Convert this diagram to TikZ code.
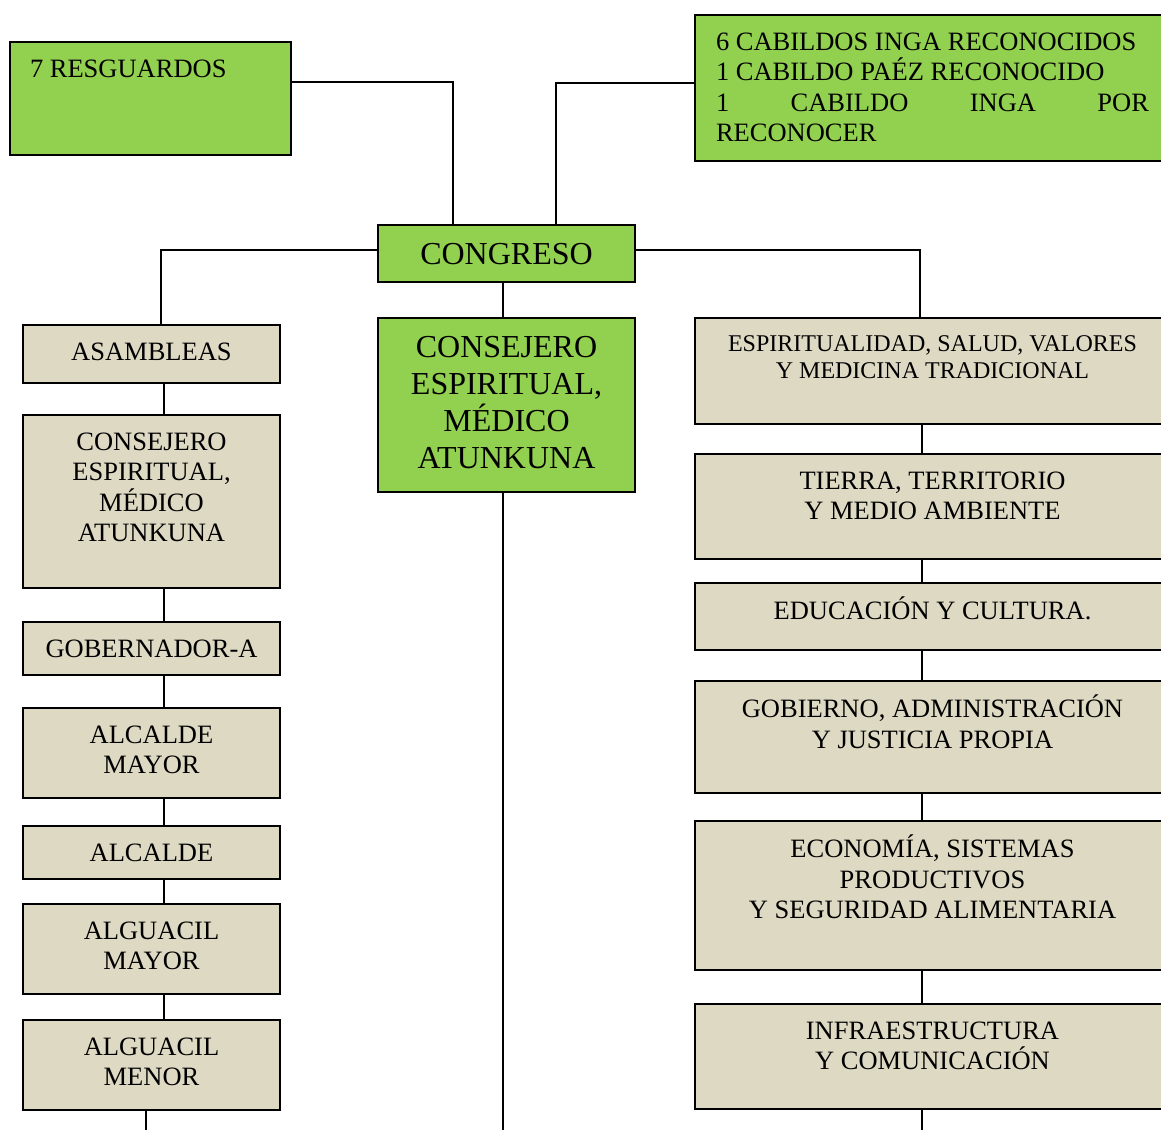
\documentclass[tikz,border=0pt]{standalone}
\usepackage{fontspec}
\setmainfont{Liberation Serif}
\definecolor{leafgreen}{HTML}{92D050}
\definecolor{tanfill}{HTML}{DDD9C3}
\newcommand{\cellc}[3]{\parbox[c][#2][t]{#1}{\centering\lineskiplimit=-10pt\vspace*{14pt}\strut#3\par}}

\begin{document}
\begin{tikzpicture}[x=1pt,y=-1pt,
  boxplain/.style={draw=black,line width=1.8pt,inner sep=0pt,outer sep=0pt,anchor=north west},
  greenbox/.style={boxplain,fill=leafgreen},
  tanbox/.style={boxplain,fill=tanfill},
  txtbase/.style={font=\fontsize{26.5}{30.5}\selectfont},
  txtbig/.style={font=\fontsize{32}{36.8}\selectfont},
  txtsmall/.style={font=\fontsize{24}{27.6}\selectfont},
  link/.style={line width=1.8pt}]
\useasboundingbox (0,0) rectangle (1161,1130);
% top row
\node[greenbox,txtbase] (a) at (10,42) {\parbox[c][113pt][t]{281pt}{\vspace*{14pt}\hspace*{20pt}\strut 7 RESGUARDOS}};
\node[greenbox,txtbase] (b) at (695,15) {\parbox[c][146pt][t]{475pt}{\lineskiplimit=-10pt\vspace*{14pt}\leftskip=21pt\rightskip=21pt\strut 6 CABILDOS INGA RECONOCIDOS\\ 1 CABILDO PAÉZ RECONOCIDO\\ 1 CABILDO INGA POR\linebreak RECONOCER\par}};
% centre
\node[greenbox,txtbig] (c) at (378,225) {\cellc{257pt}{57pt}{CONGRESO}};
\node[greenbox,txtbig] (d) at (378,318) {\cellc{257pt}{174pt}{CONSEJERO\\ ESPIRITUAL,\\ MÉDICO\\ ATUNKUNA}};
% left column
\node[tanbox,txtbase] (l1) at (23,325) {\cellc{257pt}{58pt}{ASAMBLEAS}};
\node[tanbox,txtbase] (l2) at (23,415) {\cellc{257pt}{173pt}{CONSEJERO\\ ESPIRITUAL,\\ MÉDICO\\ ATUNKUNA}};
\node[tanbox,txtbase] (l3) at (23,622) {\cellc{257pt}{53pt}{GOBERNADOR-A}};
\node[tanbox,txtbase] (l4) at (23,708) {\cellc{257pt}{90pt}{ALCALDE\\ MAYOR}};
\node[tanbox,txtbase] (l5) at (23,826) {\cellc{257pt}{53pt}{ALCALDE}};
\node[tanbox,txtbase] (l6) at (23,904) {\cellc{257pt}{90pt}{ALGUACIL\\ MAYOR}};
\node[tanbox,txtbase] (l7) at (23,1020) {\cellc{257pt}{90pt}{ALGUACIL\\ MENOR}};
% right column
\node[tanbox,txtsmall] (r1) at (695,318) {\cellc{475pt}{106pt}{ESPIRITUALIDAD, SALUD, VALORES\\ Y MEDICINA TRADICIONAL}};
\node[tanbox,txtbase] (r2) at (695,454) {\cellc{475pt}{105pt}{TIERRA, TERRITORIO\\ Y MEDIO AMBIENTE}};
\node[tanbox,txtbase] (r3) at (695,583) {\cellc{475pt}{67pt}{EDUCACIÓN Y CULTURA.}};
\node[tanbox,txtbase] (r4) at (695,681) {\cellc{475pt}{112pt}{GOBIERNO, ADMINISTRACIÓN\\ Y JUSTICIA PROPIA}};
\node[tanbox,txtbase] (r5) at (695,821) {\cellc{475pt}{149pt}{ECONOMÍA, SISTEMAS\\ PRODUCTIVOS\\ Y SEGURIDAD ALIMENTARIA}};
\node[tanbox,txtbase] (r6) at (695,1004) {\cellc{475pt}{105pt}{INFRAESTRUCTURA\\ Y COMUNICACIÓN}};
% loose ends at the bottom
\coordinate (lend) at (146,1130);
\coordinate (cend) at (503,1130);
\coordinate (rend) at (922,1130);
% elbow links
\draw[link] ([yshift=16.5pt]a.east) -| ([xshift=-53.5pt]c.north);
\draw[link] ([yshift=5pt]b.west) -| ([xshift=49.5pt]c.north);
\draw[link] ([yshift=3.5pt]c.west) -| ([xshift=9.5pt]l1.north);
\draw[link] ([yshift=3.5pt]c.east) -| ([xshift=-12.5pt]r1.north);
% straight links
\path[link]
([xshift=-3.5pt]c.south) edge ([xshift=-3.5pt]d.north)
(d.south -| cend) edge (cend)
([xshift=12.5pt]l1.south) edge ([xshift=12.5pt]l2.north)
([xshift=12.5pt]l2.south) edge ([xshift=12.5pt]l3.north)
([xshift=12.5pt]l3.south) edge ([xshift=12.5pt]l4.north)
([xshift=12.5pt]l4.south) edge ([xshift=12.5pt]l5.north)
([xshift=12.5pt]l5.south) edge ([xshift=12.5pt]l6.north)
([xshift=12.5pt]l6.south) edge ([xshift=12.5pt]l7.north)
(l7.south -| lend) edge (lend)
([xshift=-10.5pt]r1.south) edge ([xshift=-10.5pt]r2.north)
([xshift=-10.5pt]r2.south) edge ([xshift=-10.5pt]r3.north)
([xshift=-10.5pt]r3.south) edge ([xshift=-10.5pt]r4.north)
([xshift=-10.5pt]r4.south) edge ([xshift=-10.5pt]r5.north)
([xshift=-10.5pt]r5.south) edge ([xshift=-10.5pt]r6.north)
(r6.south -| rend) edge (rend)
;
\end{tikzpicture}
\end{document}
